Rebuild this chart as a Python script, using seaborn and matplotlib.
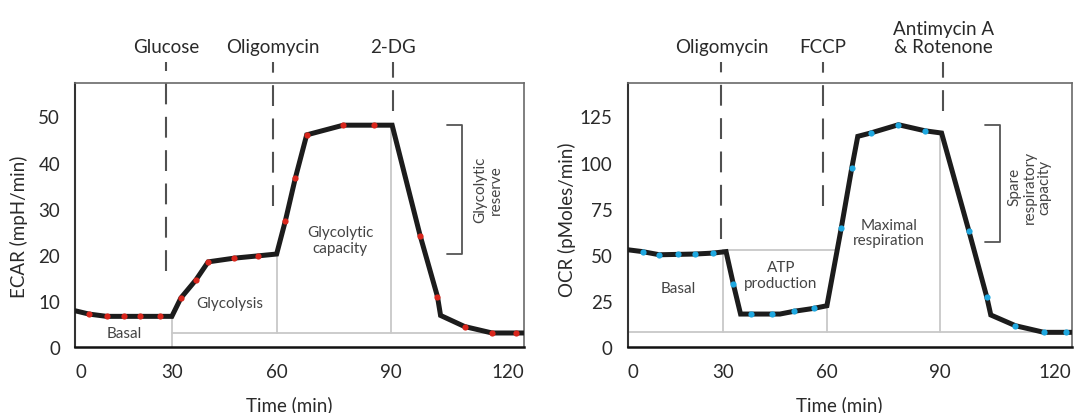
import numpy as np
import matplotlib
matplotlib.use("Agg")
import matplotlib.pyplot as plt
import seaborn as sns

# ---- data ----
tick_minutes = [0, 30, 60, 90, 120]
tick_pos = [0, 0.215, 0.4485, 0.703, 1.0]   # the time axis is drawn unevenly

ecar_time = [0, 4.2, 9.7, 15.2, 20.0, 26.2, 30.0, 32.6, 36.9, 40.4, 47.8, 54.7, 60.0,
             62.3, 64.9, 67.9, 77.5, 85.7, 90.3, 96.6, 100.5, 101.2, 106.6, 112.8, 118.1, 120]
ecar_rate = [7.9, 7.2, 6.7, 6.7, 6.7, 6.7, 6.7, 10.7, 14.6, 18.5, 19.3, 19.8, 20.2,
             27.4, 36.6, 46.0, 48.1, 48.1, 48.1, 24.2, 11.0, 6.9, 4.5, 3.1, 3.1, 3.1]
ecar_measured = [0, 1, 1, 1, 1, 1, 0, 1, 1, 1, 1, 1, 0,
                 1, 1, 1, 1, 1, 0, 1, 1, 0, 1, 1, 1, 0]

ocr_time = [0, 4.6, 9.9, 15.7, 21.2, 26.7, 30.8, 32.9, 35.0, 38.1, 44.2, 46.4, 50.5, 56.3, 60.0,
            63.8, 66.6, 68.2, 71.6, 79.0, 86.1, 90.4, 96.6, 100.7, 101.6, 107.2, 113.7, 118.8, 120]
ocr_rate = [52.8, 51.8, 50.1, 50.3, 50.5, 51.0, 51.8, 34.3, 18.0, 18.0, 18.0, 18.0, 19.5, 21.1, 22.5,
            64.4, 97.0, 114.2, 116.0, 120.5, 117.2, 116.0, 63.1, 27.1, 17.5, 11.7, 8.1, 8.1, 8.1]
ocr_measured = [0, 1, 1, 1, 1, 1, 0, 1, 0, 1, 1, 0, 1, 1, 0,
                1, 1, 0, 1, 1, 1, 0, 1, 1, 0, 1, 1, 1, 0]

ecar_injections = ["Glucose", "Oligomycin", "2-DG"]
ecar_inject_time = [28.3, 59.0, 90.4]
ecar_inject_bottom = [16.6, 30.7, 51.2]
ocr_injections = ["Oligomycin", "FCCP", "Antimycin A\n& Rotenone"]
ocr_inject_time = [29.4, 58.9, 90.8]
ocr_inject_bottom = [58.6, 76.7, 128.0]

ecar_floor = 3.1
ocr_floor = 8.1
ocr_basal = 52.8

LINE = "#1c1c1c"
GUIDE = "#c8c8c8"
DASH = "#505050"
NOTE = "#444444"

sns.set_style("white")
plt.rcParams["font.family"] = ["Lato", "DejaVu Sans"]


def time_scale(pos):
    m = np.array(tick_minutes, float)
    p = np.array(pos, float)

    def warp(x, a, b):
        x = np.asarray(x, float)
        y = np.interp(x, a, b)
        y = np.where(x < a[0], b[0] + (x - a[0]) * (b[1] - b[0]) / (a[1] - a[0]), y)
        y = np.where(x > a[-1], b[-1] + (x - a[-1]) * (b[-1] - b[-2]) / (a[-1] - a[-2]), y)
        return y

    return (lambda x: warp(x, m, p)), (lambda y: warp(y, p, m))


def draw_trace(ax, t, v, measured, dot_color):
    t = np.array(t)
    v = np.array(v)
    sel = np.array(measured, bool)
    sns.lineplot(x=t, y=v, ax=ax, sort=False, estimator=None, color=LINE, lw=3.6,
                 solid_joinstyle="miter", zorder=5)
    sns.scatterplot(x=t[sel], y=v[sel], ax=ax, color=dot_color, s=20, linewidth=0, zorder=6)


def style_axes(ax, ymax, yticks):
    ax.set_xscale("function", functions=time_scale(tick_pos))
    ax.set_xlim(0, 120)
    ax.set_ylim(0, ymax)
    ax.set_xticks(tick_minutes)
    ax.set_yticks(yticks)
    ax.tick_params(axis="x", direction="out", length=6, width=1.5, color="#222222",
                   pad=5, labelsize=13.5, labelcolor="#2a2a2a")
    ax.tick_params(axis="y", length=0, pad=11, labelsize=13.5, labelcolor="#2a2a2a")
    ticks = ax.xaxis.get_major_ticks()
    ticks[0].label1.set_horizontalalignment("left")
    ticks[-1].label1.set_horizontalalignment("right")
    for side in ["top", "right"]:
        ax.spines[side].set_color("#6a6a6a")
        ax.spines[side].set_linewidth(1.2)
    ax.spines["left"].set_color("#333333")
    ax.spines["left"].set_linewidth(1.5)
    ax.spines["bottom"].set_color("#111111")
    ax.spines["bottom"].set_linewidth(1.8)
    ax.set_xlabel("Time (min)", fontsize=13.5, color="#2a2a2a", va="top")
    ax.xaxis.set_label_coords(0.477, -0.18)


def injections(ax, names, times, bottoms, top, label_y):
    for name, t, b in zip(names, times, bottoms):
        ax.plot([t, t], [b, top], color=DASH, lw=1.5, dashes=(10, 6), clip_on=False, zorder=3)
        ax.text(t, label_y, name, ha="center", va="bottom", fontsize=13.5,
                color="#2a2a2a", linespacing=1.05)


def bracket(ax, x, arm, lo, hi):
    ax.plot([arm, x, x, arm], [hi, hi, lo, lo], color="#555555", lw=1.3, zorder=3)


fig = plt.figure(figsize=(10.77, 4.14), dpi=100)
ax1 = fig.add_axes([0.070, 0.1587, 0.4166, 0.638])
ax2 = fig.add_axes([0.583, 0.1587, 0.412, 0.638])

# ---- ECAR panel ----
style_axes(ax1, 57.2, [0, 10, 20, 30, 40, 50])
ecar_at = lambda t: np.interp(t, ecar_time, ecar_rate)
ax1.plot([30, 120], [ecar_floor, ecar_floor], color=GUIDE, lw=1.3, zorder=2)
ax1.plot([30, 30], [0, ecar_at(30)], color=GUIDE, lw=1.3, zorder=2)
ax1.plot([60, 60], [ecar_floor, ecar_at(60)], color=GUIDE, lw=1.3, zorder=2)
ax1.plot([90, 90], [ecar_floor, ecar_at(90)], color=GUIDE, lw=1.3, zorder=2)
draw_trace(ax1, ecar_time, ecar_rate, ecar_measured, "#d9261c")
injections(ax1, ecar_injections, ecar_inject_time, ecar_inject_bottom, 61.8, 63.4)
bracket(ax1, 106.0, 102.7, 20.2, max(ecar_rate))
ax1.text(15.1, 3.2, "Basal", ha="center", va="center", fontsize=11, color=NOTE)
ax1.text(46.5, 9.7, "Glycolysis", ha="center", va="center", fontsize=11, color=NOTE)
ax1.text(76.7, 23.3, "Glycolytic\ncapacity", ha="center", va="center", fontsize=11,
         color=NOTE, linespacing=1.15)
ax1.text(111.9, 34.3, "Glycolytic\nreserve", ha="center", va="center", fontsize=11,
         color=NOTE, rotation=90, linespacing=1.15)
ax1.set_ylabel("ECAR (mpH/min)", fontsize=13.5, color="#2a2a2a")
ax1.yaxis.set_label_coords(-0.106, 0.459)

# ---- OCR panel ----
style_axes(ax2, 143.0, [0, 25, 50, 75, 100, 125])
ocr_at = lambda t: np.interp(t, ocr_time, ocr_rate)
ax2.plot([0, 120], [ocr_floor, ocr_floor], color=GUIDE, lw=1.3, zorder=2)
ax2.plot([30, 62.7], [ocr_basal, ocr_basal], color=GUIDE, lw=1.3, zorder=2)
ax2.plot([30, 30], [ocr_floor, ocr_basal], color=GUIDE, lw=1.3, zorder=2)
ax2.plot([60, 60], [ocr_floor, ocr_at(60)], color=GUIDE, lw=1.3, zorder=2)
ax2.plot([90, 90], [ocr_floor, ocr_at(90)], color=GUIDE, lw=1.3, zorder=2)
draw_trace(ax2, ocr_time, ocr_rate, ocr_measured, "#1fa8e0")
injections(ax2, ocr_injections, ocr_inject_time, ocr_inject_bottom, 154.4, 158.5)
bracket(ax2, 103.7, 100.3, 57.0, max(ocr_rate))
ax2.text(15.9, 31.9, "Basal", ha="center", va="center", fontsize=11, color=NOTE)
ax2.text(46.7, 39.2, "ATP\nproduction", ha="center", va="center", fontsize=11,
         color=NOTE, linespacing=1.15)
ax2.text(76.5, 62.2, "Maximal\nrespiration", ha="center", va="center", fontsize=11,
         color=NOTE, linespacing=1.15)
ax2.text(110.4, 87.3, "Spare\nrespiratory\ncapacity", ha="center", va="center", fontsize=11,
         color=NOTE, rotation=90, linespacing=1.1)
ax2.set_ylabel("OCR (pMoles/min)", fontsize=13.5, color="#2a2a2a")
ax2.yaxis.set_label_coords(-0.117, 0.485)

fig.savefig("out.png", dpi=100)
plt.close(fig)
